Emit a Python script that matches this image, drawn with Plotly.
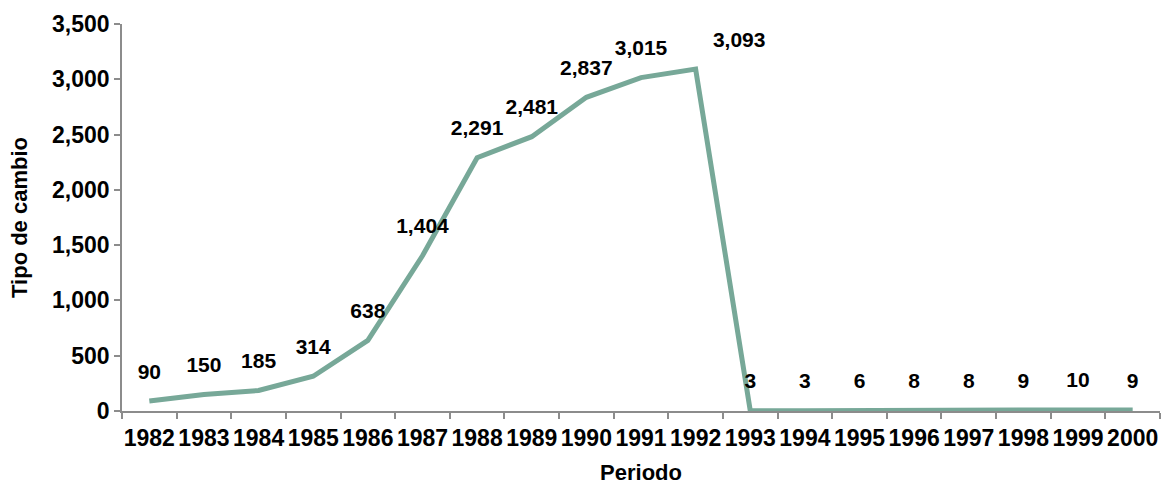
import plotly.graph_objects as go

periodos = ["1982", "1983", "1984", "1985", "1986", "1987", "1988", "1989", "1990", "1991",
            "1992", "1993", "1994", "1995", "1996", "1997", "1998", "1999", "2000"]
tipo_cambio = [90, 150, 185, 314, 638, 1404, 2291, 2481, 2837, 3015,
               3093, 3, 3, 6, 8, 8, 9, 10, 9]

FONT = "Liberation Sans, Arial, sans-serif"
LINE_COLOR = "#77A898"
AXIS_COLOR = "#8C8C8C"

fig = go.Figure()
fig.add_trace(go.Scatter(
    x=periodos, y=tipo_cambio, mode="lines",
    line=dict(color=LINE_COLOR, width=5),
    hoverinfo="skip",
))

# value labels: transparent markers push the text up above each point;
# the peak label leans right so it does not crowd its neighbour
label_pos = ["top right" if p == "1992" else "top center" for p in periodos]
fig.add_trace(go.Scatter(
    x=periodos, y=tipo_cambio, mode="markers+text",
    marker=dict(size=26, color="rgba(0,0,0,0)"),
    text=[f"<b>{v:,}</b>" for v in tipo_cambio],
    textposition=label_pos,
    textfont=dict(family=FONT, size=21, color="black"),
    hoverinfo="skip", cliponaxis=False,
))

fig.update_layout(
    width=1167, height=485,
    margin=dict(l=122, r=7, t=24, b=74),
    paper_bgcolor="white", plot_bgcolor="white",
    showlegend=False,
    font=dict(family=FONT, color="black"),
)
fig.update_xaxes(
    type="category", range=[-0.5, 18.5], automargin=False,
    showline=True, linecolor=AXIS_COLOR, linewidth=1.5,
    ticks="outside", tickson="boundaries", ticklen=6, tickcolor=AXIS_COLOR, tickwidth=1.5,
    showgrid=False, zeroline=False, tickangle=0, ticklabelstandoff=6,
    tickfont=dict(family=FONT, size=23, color="black", weight="bold"),
    title=dict(text="<b>Periodo</b>", font=dict(family=FONT, size=22), standoff=16),
)
fig.update_yaxes(
    range=[0, 3500], dtick=500, tickformat=",", automargin=False,
    showline=True, linecolor=AXIS_COLOR, linewidth=1.5,
    ticks="outside", ticklen=6, tickcolor=AXIS_COLOR, tickwidth=1.5,
    showgrid=False, zeroline=False,
    tickfont=dict(family=FONT, size=23, color="black", weight="bold"),
    title=dict(text="<b>Tipo de cambio</b>", font=dict(family=FONT, size=22), standoff=18),
)

fig.write_html("out.html")
